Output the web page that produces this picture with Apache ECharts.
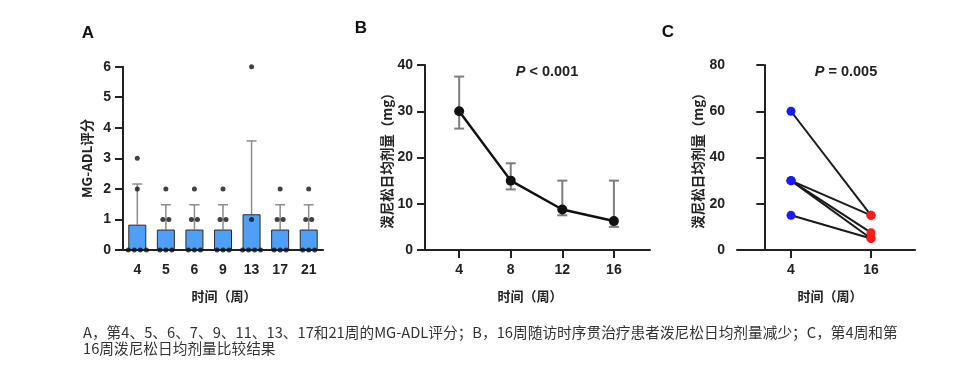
<!DOCTYPE html>
<html><head><meta charset="utf-8">
<script src="https://cdn.jsdelivr.net/npm/echarts@6/dist/echarts.min.js"></script>
<style>html,body{margin:0;padding:0;background:#fff}#c{width:960px;height:367px}</style>
</head><body><div id="c"></div>
<script>
// ---- Panel A data ----
const weeksA = ['4','5','6','9','13','17','21'];
const meanA = [0.83,0.67,0.67,0.67,1.17,0.67,0.67];
const sdUpperA = [2.16,1.48,1.48,1.48,3.57,1.48,1.48];
const dotsA = [[3,2,0,0,0,0],[2,1,1,0,0,0],[2,1,1,0,0,0],[2,1,1,0,0,0],[6,1,0,0,0,0],[2,1,1,0,0,0],[2,1,1,0,0,0]];
const yTicksA = [0,1,2,3,4,5,6];
// ---- Panel B data ----
const weeksB = [4,8,12,16];
const medianB = [30,15,8.75,6.25];
const lowB = [26.25,13.1,7.5,5];
const highB = [37.5,18.75,15,15];
const yTicksB = [0,10,20,30,40];
// ---- Panel C data ----
const weeksC = [4,16];
const doseWeek4 = [60,30,30,30,15];
const doseWeek16 = [15,15,7.5,5,5];
const yTicksC = [0,20,40,60,80];

const FONT = '"Liberation Sans", Arial, "Noto Sans CJK SC", sans-serif';
const CJK = '"Noto Sans CJK SC", "Liberation Sans", sans-serif';
const AX = '#222';

function yAxisCfg(gridIndex, ticks, name, nameGap) {
  return {
    type: 'value', gridIndex, min: ticks[0], max: ticks[ticks.length-1],
    interval: ticks[1]-ticks[0],
    name, nameLocation: 'middle', nameGap, nameRotate: 90,
    nameTextStyle: {fontFamily: CJK, fontWeight: 'bold', fontSize: 13.5, color: AX},
    axisLine: {show: true, lineStyle: {color: AX, width: 2}},
    axisTick: {show: true, length: 8, lineStyle: {color: AX, width: 2}},
    axisLabel: {fontFamily: FONT, fontWeight: 'bold', fontSize: 14, color: AX, margin: 12},
    splitLine: {show: false}
  };
}
function xValueAxis(gridIndex, min, max, ticks) {
  return {
    type: 'value', gridIndex, min, max,
    axisLine: {show: true, onZero: false, lineStyle: {color: AX, width: 2}},
    axisTick: {show: true, length: 8, customValues: ticks, lineStyle: {color: AX, width: 2}},
    axisLabel: {customValues: ticks, fontFamily: FONT, fontWeight: 'bold', fontSize: 14, color: AX, margin: 13},
    splitLine: {show: false}
  };
}

// dot offsets for duplicates in panel A
const dotData = [];
dotsA.forEach((vals, i) => {
  const counts = {};
  vals.forEach(v => counts[v] = (counts[v] || 0) + 1);
  const seen = {};
  vals.forEach(v => {
    const k = seen[v] = (seen[v] === undefined ? 0 : seen[v] + 1);
    const dx = (k - (counts[v] - 1) / 2) * 6;
    dotData.push({value: [i, v], symbolOffset: [dx, 0]});
  });
});

const errA = weeksA.map((w, i) => [i, meanA[i], sdUpperA[i]]);
const errB = weeksB.map((w, i) => [w, lowB[i], highB[i]]);

function errRender(color, capHalf, lw) {
  return function(params, api) {
    const x = api.value(0);
    const lo = api.coord([x, api.value(1)]);
    const hi = api.coord([x, api.value(2)]);
    const st = {stroke: color, lineWidth: lw};
    return {type: 'group', children: [
      {type: 'line', shape: {x1: lo[0], y1: lo[1], x2: hi[0], y2: hi[1]}, style: st},
      {type: 'line', shape: {x1: hi[0]-capHalf, y1: hi[1], x2: hi[0]+capHalf, y2: hi[1]}, style: st},
      {type: 'line', shape: {x1: lo[0]-capHalf, y1: lo[1], x2: lo[0]+capHalf, y2: lo[1]}, style: st}
    ]};
  };
}

const pairSeries = doseWeek4.map((v, i) => ({
  type: 'line', xAxisIndex: 2, yAxisIndex: 2,
  data: [
    {value: [weeksC[0], v], itemStyle: {color: '#1a1aff'}},
    {value: [weeksC[1], doseWeek16[i]], itemStyle: {color: '#ff1a1a'}}
  ],
  symbol: 'circle', symbolSize: 9,
  lineStyle: {color: '#1a1a1a', width: 2},
  z: 3
}));

const option = {
  animation: false,
  backgroundColor: '#fff',
  grid: [
    {left: 123, top: 66.7, width: 200, height: 183.3},
    {left: 425, top: 65, width: 225, height: 185},
    {left: 737, top: 65, width: 178, height: 185}
  ],
  xAxis: [
    {type: 'category', gridIndex: 0, data: weeksA,
      axisLine: {lineStyle: {color: AX, width: 2}},
      axisTick: {alignWithLabel: true, length: 8, lineStyle: {color: AX, width: 2}},
      axisLabel: {fontFamily: FONT, fontWeight: 'bold', fontSize: 14, color: AX, margin: 13}},
    xValueAxis(1, 1.35, 18.8, weeksB),
    xValueAxis(2, -4.1, 22.6, weeksC)
  ],
  yAxis: [
    yAxisCfg(0, yTicksA, 'MG-ADL评分', 29),
    yAxisCfg(1, yTicksB, '泼尼松日均剂量（mg）', 30),
    yAxisCfg(2, yTicksC, '泼尼松日均剂量（mg）', 32)
  ],
  series: [
    {type: 'custom', xAxisIndex: 0, yAxisIndex: 0, data: errA,
      renderItem: function(params, api) {
        const x = api.value(0);
        const lo = api.coord([x, api.value(1)]);
        const hi = api.coord([x, api.value(2)]);
        const st = {stroke: '#8c8c8c', lineWidth: 1.5};
        return {type: 'group', children: [
          {type: 'line', shape: {x1: lo[0], y1: lo[1], x2: hi[0], y2: hi[1]}, style: st},
          {type: 'line', shape: {x1: hi[0]-5, y1: hi[1], x2: hi[0]+5, y2: hi[1]}, style: st}
        ]};
      }, z: 1},
    {type: 'bar', xAxisIndex: 0, yAxisIndex: 0, data: meanA, barWidth: 18,
      itemStyle: {color: '#4f9ff7', borderColor: '#2b2b2b', borderWidth: 1}, z: 2},
    {type: 'scatter', xAxisIndex: 0, yAxisIndex: 0, data: dotData, symbolSize: 5,
      itemStyle: {color: '#111'}, z: 4},
    {type: 'custom', xAxisIndex: 1, yAxisIndex: 1, data: errB,
      renderItem: errRender('#7d7d7d', 5, 2), z: 1},
    {type: 'line', xAxisIndex: 1, yAxisIndex: 1,
      data: weeksB.map((w, i) => [w, medianB[i]]),
      symbol: 'circle', symbolSize: 10,
      lineStyle: {color: '#111', width: 2.5}, itemStyle: {color: '#111'}, z: 3},
    ...pairSeries
  ],
  graphic: [
    {type: 'text', x: 88, y: 33, style: {text: 'A', font: 'bold 17px ' + FONT, fill: '#111', align: 'center', verticalAlign: 'middle'}},
    {type: 'text', x: 361, y: 28, style: {text: 'B', font: 'bold 17px ' + FONT, fill: '#111', align: 'center', verticalAlign: 'middle'}},
    {type: 'text', x: 668, y: 32, style: {text: 'C', font: 'bold 17px ' + FONT, fill: '#111', align: 'center', verticalAlign: 'middle'}},
    {type: 'text', x: 224, y: 296, style: {text: '时间（周）', font: 'bold 13px ' + CJK, fill: AX, align: 'center', verticalAlign: 'middle'}},
    {type: 'text', x: 530, y: 296.5, style: {text: '时间（周）', font: 'bold 13px ' + CJK, fill: AX, align: 'center', verticalAlign: 'middle'}},
    {type: 'text', x: 830, y: 296.5, style: {text: '时间（周）', font: 'bold 13px ' + CJK, fill: AX, align: 'center', verticalAlign: 'middle'}},
    {type: 'text', x: 547, y: 72, style: {
      text: '{i|P}{n| < 0.001}', align: 'center', verticalAlign: 'middle',
      rich: {i: {font: 'italic bold 14.5px ' + FONT, fill: '#222'}, n: {font: 'bold 14.5px ' + FONT, fill: '#222'}}}},
    {type: 'text', x: 846, y: 72, style: {
      text: '{i|P}{n| = 0.005}', align: 'center', verticalAlign: 'middle',
      rich: {i: {font: 'italic bold 14.5px ' + FONT, fill: '#222'}, n: {font: 'bold 14.5px ' + FONT, fill: '#222'}}}},
    {type: 'text', x: 83, y: 324.5, style: {
      text: 'A，第4、5、6、7、9、11、13、17和21周的MG-ADL评分；B，16周随访时序贯治疗患者泼尼松日均剂量减少；C，第4周和第\n16周泼尼松日均剂量比较结果',
      font: '14.7px ' + CJK, fill: '#333', lineHeight: 16, verticalAlign: 'top'}}
  ]
};
const chart = echarts.init(document.getElementById('c'), null, {renderer: 'canvas'});
chart.setOption(option);
</script>
</body></html>
